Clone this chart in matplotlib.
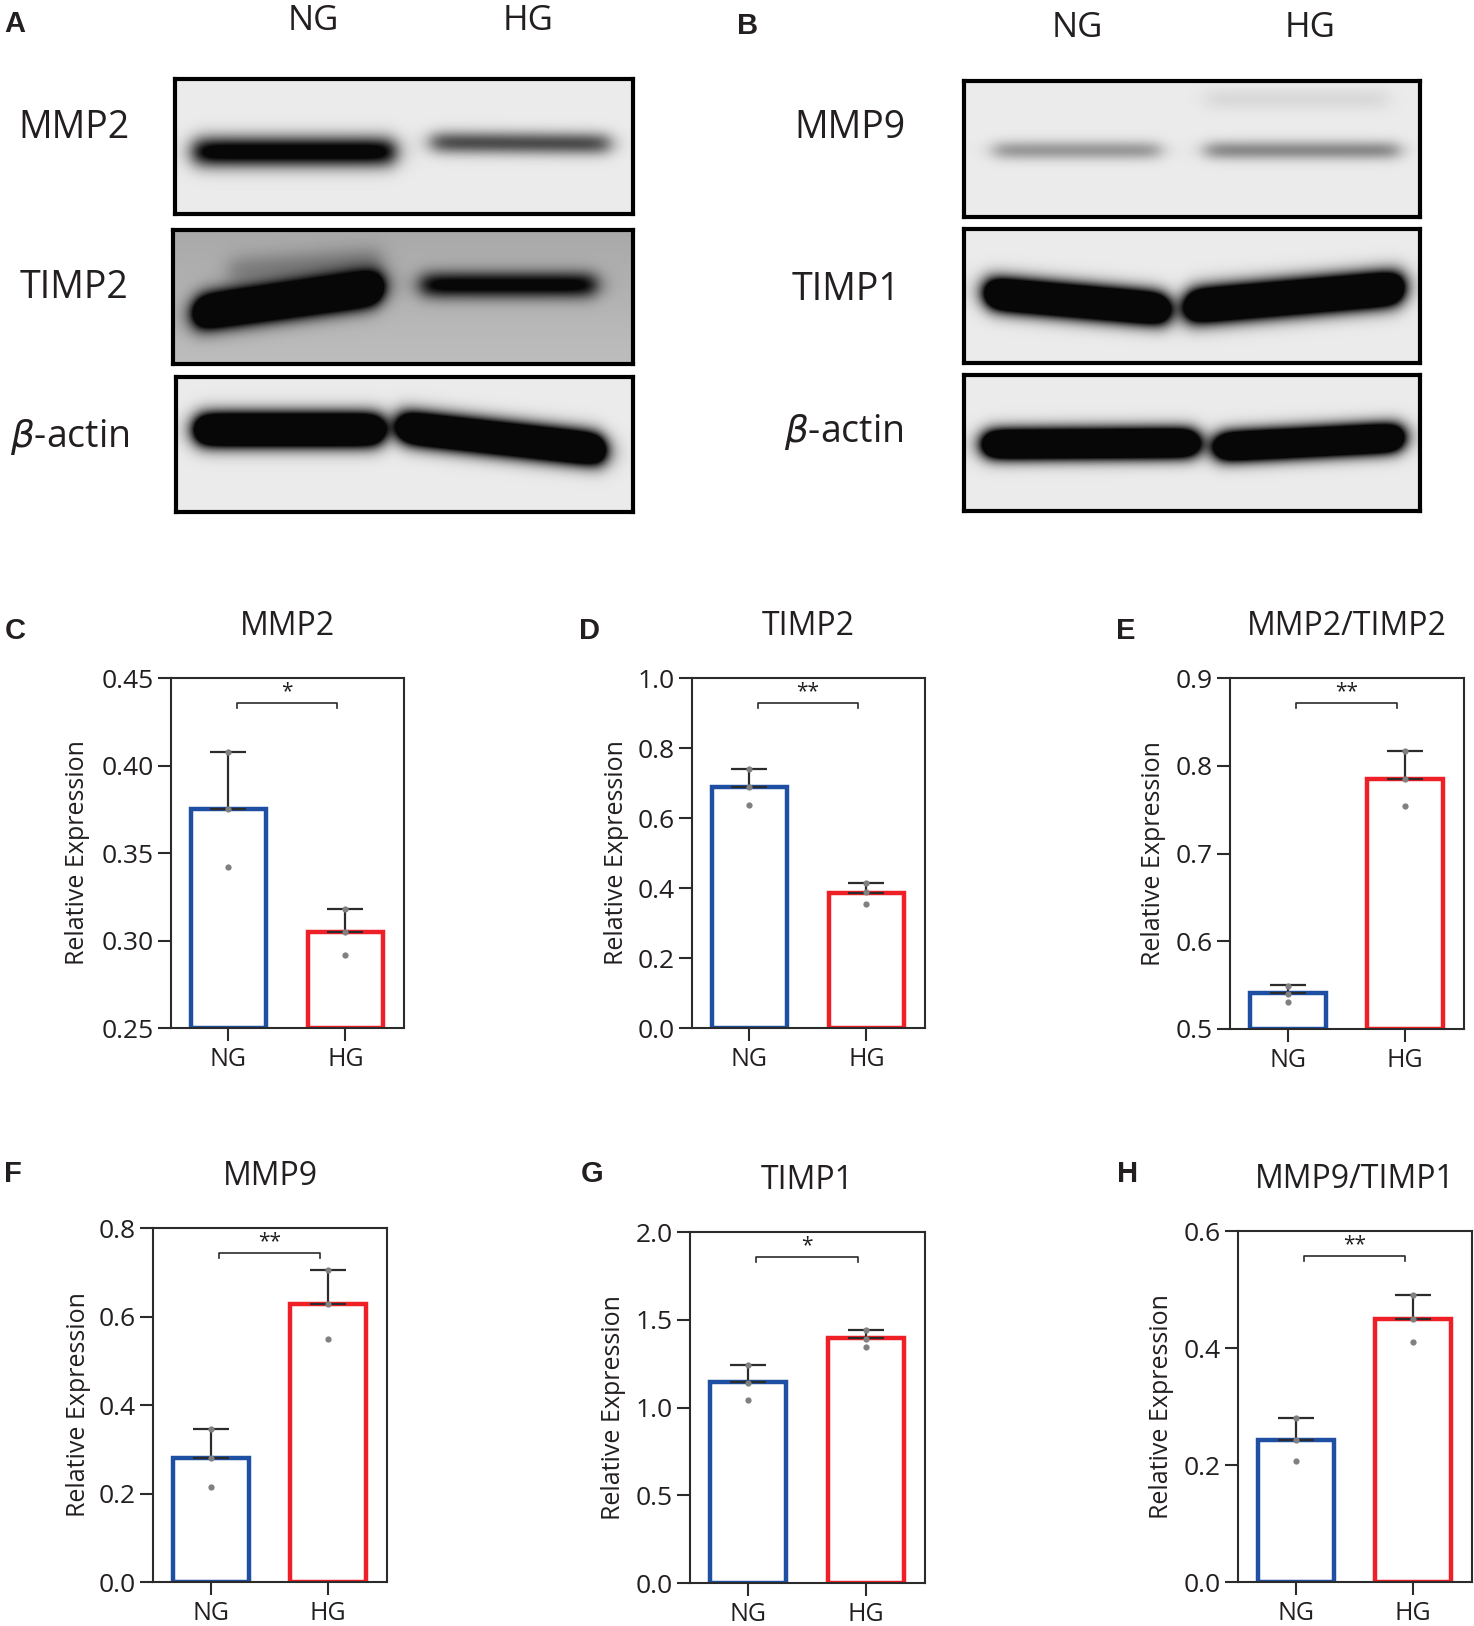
import numpy as np
import matplotlib.pyplot as plt
from matplotlib import transforms

plt.rcParams['font.family'] = ['Open Sans', 'DejaVu Sans']
plt.rcParams['mathtext.fontset'] = 'dejavusans'

W, H = 1474, 1626
TXT = '#231f20'
BLUE = '#1f4fa3'
RED = '#ee1f26'

groups = ['NG', 'HG']

# values (mean, upper error, single points)
mmp2_mean = [0.375, 0.305]
mmp2_err = [0.033, 0.013]
mmp2_pts = [[0.408, 0.375, 0.342], [0.318, 0.305, 0.292]]

timp2_mean = [0.690, 0.385]
timp2_err = [0.050, 0.030]
timp2_pts = [[0.740, 0.690, 0.637], [0.415, 0.390, 0.354]]

mmp2_timp2_mean = [0.541, 0.785]
mmp2_timp2_err = [0.009, 0.032]
mmp2_timp2_pts = [[0.549, 0.540, 0.531], [0.817, 0.785, 0.754]]

mmp9_mean = [0.280, 0.628]
mmp9_err = [0.065, 0.076]
mmp9_pts = [[0.345, 0.280, 0.215], [0.705, 0.628, 0.550]]

timp1_mean = [1.147, 1.394]
timp1_err = [0.095, 0.047]
timp1_pts = [[1.242, 1.140, 1.043], [1.440, 1.390, 1.347]]

mmp9_timp1_mean = [0.243, 0.450]
mmp9_timp1_err = [0.037, 0.040]
mmp9_timp1_pts = [[0.280, 0.243, 0.207], [0.490, 0.450, 0.411]]

# western blot strips: background darkness and bands
# band = (x start, x end, y centre left, y centre right, thickness, darkness)
mmp2_bg = 0.08
mmp2_bands = [(0.04, 0.48, 0.54, 0.54, 0.08, 1.05), (0.56, 0.95, 0.47, 0.48, 0.06, 0.62)]
timp2_bg = 0.30
timp2_bands = [(0.05, 0.45, 0.62, 0.43, 0.09, 1.9), (0.12, 0.45, 0.30, 0.22, 0.08, 0.18),
               (0.54, 0.92, 0.41, 0.41, 0.07, 0.75)]
actin_a_bg = 0.08
actin_a_bands = [(0.045, 0.45, 0.39, 0.39, 0.085, 2.3), (0.49, 0.935, 0.37, 0.54, 0.085, 2.3)]
mmp9_bg = 0.08
mmp9_bands = [(0.065, 0.43, 0.51, 0.51, 0.05, 0.32), (0.53, 0.955, 0.51, 0.51, 0.05, 0.38),
              (0.53, 0.93, 0.13, 0.13, 0.06, 0.07)]
timp1_bg = 0.08
timp1_bands = [(0.05, 0.445, 0.48, 0.60, 0.085, 2.3), (0.49, 0.96, 0.58, 0.44, 0.09, 2.3)]
actin_b_bg = 0.08
actin_b_bands = [(0.045, 0.51, 0.51, 0.50, 0.075, 2.3), (0.555, 0.96, 0.53, 0.46, 0.075, 2.3)]

fig = plt.figure(figsize=(W / 100, H / 100), dpi=100)


def px_axes(x0, y0, x1, y1):
    return fig.add_axes([x0 / W, 1 - y1 / H, (x1 - x0) / W, (y1 - y0) / H])


def px_text(x, y, s, **kw):
    fig.text(x / W, 1 - y / H, s, va='baseline', color=TXT, **kw)


def draw_blot(box, bg, bands, grad=0.0):
    ax = px_axes(*box)
    w = int(box[2] - box[0])
    h = int(box[3] - box[1])
    X, Y = np.meshgrid(np.linspace(0, 1, w), np.linspace(0, 1, h))
    dark = bg + grad * (0.5 - Y)
    for x0, x1, yl, yr, sig, amp in bands:
        xprof = 0.5 * (np.tanh((X - x0) / 0.025) - np.tanh((X - x1) / 0.025))
        yc = yl + (yr - yl) * (X - x0) / (x1 - x0)
        yprof = np.exp(-0.5 * ((Y - yc) / sig) ** 2)
        dark = dark + amp * xprof * yprof
    img = 1 - np.clip(dark, 0, 0.97)
    ax.imshow(img, cmap='gray', vmin=0, vmax=1, extent=(0, 1, 1, 0),
              aspect='auto', interpolation='bilinear')
    ax.set_xlim(0, 1)
    ax.set_ylim(1, 0)
    ax.set_xticks([])
    ax.set_yticks([])
    for s in ax.spines.values():
        s.set_linewidth(3)
        s.set_color('black')


# panel A
draw_blot((175, 79, 633, 214), mmp2_bg, mmp2_bands)
draw_blot((173, 230, 633, 364), timp2_bg, timp2_bands, grad=0.08)
draw_blot((176, 377, 633, 512), actin_a_bg, actin_a_bands)
# panel B
draw_blot((964, 81, 1420, 217), mmp9_bg, mmp9_bands)
draw_blot((964, 229, 1420, 363), timp1_bg, timp1_bands)
draw_blot((964, 375, 1420, 511), actin_b_bg, actin_b_bands)

px_text(313, 30, 'NG', fontsize=25, ha='center')
px_text(528, 30, 'HG', fontsize=25, ha='center')
px_text(1077, 37, 'NG', fontsize=25, ha='center')
px_text(1310, 37, 'HG', fontsize=25, ha='center')

px_text(130, 138, 'MMP2', fontsize=27, ha='right')
px_text(128, 298, 'TIMP2', fontsize=27, ha='right')
px_text(130, 447, r'$\beta$-actin', fontsize=27, ha='right')
px_text(905, 138, 'MMP9', fontsize=27, ha='right')
px_text(900, 300, 'TIMP1', fontsize=27, ha='right')
px_text(904, 442, r'$\beta$-actin', fontsize=27, ha='right')

letter_kw = dict(fontsize=21, fontweight='bold', family=['Liberation Sans', 'DejaVu Sans'])
px_text(4, 32, 'A', **letter_kw)
px_text(737, 34, 'B', **letter_kw)


def bar_panel(box, title, means, errs, pts, ylim, yticks, fmt, stars, label_x):
    ax = px_axes(*box)
    x = np.arange(len(groups))
    ax.bar(x, np.array(means) - ylim[0], bottom=ylim[0], width=0.645,
           color='white', edgecolor=[BLUE, RED], linewidth=3.2, zorder=2)
    ax.errorbar(x, means, yerr=[[0, 0], errs], fmt='none', ecolor='#2b2b2b',
                elinewidth=1.6, capsize=13, capthick=1.6, zorder=3)
    for xi, p in zip(x, pts):
        ax.plot([xi] * len(p), p, 'o', color='#808080', ms=4.5, mec='none', zorder=4)
    ax.set_xlim(-0.49, 1.5)
    ax.set_ylim(ylim)
    ax.set_yticks(yticks)
    ax.set_yticklabels([fmt.format(t) for t in yticks])
    ax.set_xticks(x)
    ax.set_xticklabels(groups)
    for s in ax.spines.values():
        s.set_linewidth(1.5)
        s.set_color('#2b2b2b')
    ax.tick_params(axis='both', direction='out', length=9.5, width=1.5,
                   color='#2b2b2b', labelcolor=TXT)
    ax.tick_params(axis='y', labelsize=19, pad=3)
    ax.tick_params(axis='x', labelsize=18, pad=4)
    ax.set_title(title, fontsize=23, color=TXT, pad=31)
    ax.text(label_x, 0.5, 'Relative Expression', transform=ax.transAxes,
            rotation=90, ha='center', va='center', fontsize=18, color=TXT)
    # significance bracket
    tr = transforms.blended_transform_factory(ax.transData, ax.transAxes)
    ax.plot([0.07, 0.07, 0.93, 0.93], [0.915, 0.93, 0.93, 0.915], color='#2b2b2b',
            lw=1.2, transform=tr, clip_on=False)
    ax.text(0.5, 0.962, stars, transform=tr, ha='center', va='center',
            fontsize=15, color=TXT)
    return ax


bar_panel((171, 678, 404, 1028), 'MMP2', mmp2_mean, mmp2_err, mmp2_pts,
          (0.25, 0.45), [0.25, 0.30, 0.35, 0.40, 0.45], '{:.2f}', '*', -0.40)
bar_panel((692, 678, 925, 1028), 'TIMP2', timp2_mean, timp2_err, timp2_pts,
          (0.0, 1.0), [0.0, 0.2, 0.4, 0.6, 0.8, 1.0], '{:.1f}', '**', -0.325)
bar_panel((1230, 678, 1464, 1029), 'MMP2/TIMP2', mmp2_timp2_mean, mmp2_timp2_err,
          mmp2_timp2_pts, (0.5, 0.9), [0.5, 0.6, 0.7, 0.8, 0.9], '{:.1f}', '**', -0.325)
bar_panel((153, 1228, 387, 1582), 'MMP9', mmp9_mean, mmp9_err, mmp9_pts,
          (0.0, 0.8), [0.0, 0.2, 0.4, 0.6, 0.8], '{:.1f}', '**', -0.32)
bar_panel((690, 1232, 925, 1583), 'TIMP1', timp1_mean, timp1_err, timp1_pts,
          (0.0, 2.0), [0.0, 0.5, 1.0, 1.5, 2.0], '{:.1f}', '*', -0.325)
bar_panel((1238, 1231, 1472, 1582), 'MMP9/TIMP1', mmp9_timp1_mean, mmp9_timp1_err,
          mmp9_timp1_pts, (0.0, 0.6), [0.0, 0.2, 0.4, 0.6], '{:.1f}', '**', -0.325)

px_text(5, 639, 'C', **letter_kw)
px_text(579, 639, 'D', **letter_kw)
px_text(1116, 639, 'E', **letter_kw)
px_text(4, 1182, 'F', **letter_kw)
px_text(581, 1182, 'G', **letter_kw)
px_text(1117, 1182, 'H', **letter_kw)

fig.savefig('out.png', dpi=100, facecolor='white')
